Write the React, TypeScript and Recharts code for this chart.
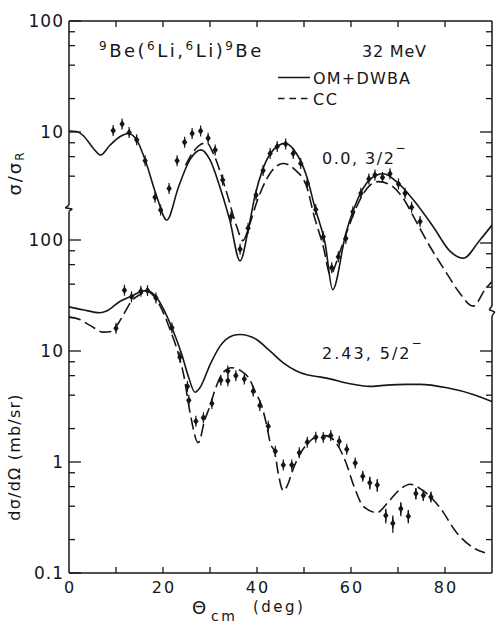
import React from 'react';
import { ComposedChart, Line, Scatter, XAxis, YAxis, ReferenceLine, ErrorBar } from 'recharts';

const W = 496;
const H = 624;
const INK = '#161616';
const FONT = '"DejaVu Sans", "Liberation Sans", sans-serif';

// plot rect: left 69, right 492, top 21, bottom 573
const LEFT_W = 40;
const RIGHT_W = 4;
const TOP_H = 10;
const BOTTOM_H = 30;
const MARGIN_UPPER = { top: 21 - TOP_H, right: 4 - RIGHT_W, bottom: 51, left: 69 - LEFT_W };
const MARGIN_LOWER = { top: 21, right: 4 - RIGHT_W, bottom: 51 - BOTTOM_H, left: 69 - LEFT_W };

// ---------- 0.0 MeV, 3/2- (upper panel, sigma/sigma_R) ----------
const gsOmAngles = [0, 1.5, 3, 5.2, 6.7, 8.7, 10.9, 12.6, 14.4, 16.2, 18.7, 20.8, 23.3, 25.7, 28.1, 30.0, 32.1, 34.2, 36.4, 38.2, 39.6, 41.3, 43.1, 46.0, 48.4, 50.6, 52.3, 54.5, 56.1, 58.9, 60.5, 63.3, 65.5, 66.9, 69.7, 73.3, 77.5, 81.1, 83.9, 87.4, 90];
const gsOmValues = [10.2, 10.1, 9.3, 7.1, 6.2, 7.6, 9.1, 9.7, 8.5, 5.6, 2.6, 1.61, 3.2, 5.6, 6.9, 5.6, 3.2, 1.61, 0.69, 1.36, 2.7, 4.7, 6.6, 7.9, 6.4, 3.95, 2.1, 0.99, 0.38, 1.22, 1.98, 3.45, 4.1, 4.2, 3.57, 2.44, 1.4, 0.84, 0.73, 1.06, 1.45];

const gsCcAngles = [24.8, 26.4, 29.3, 30.7, 33.6, 35.7, 37.0, 38.5, 39.9, 42.8, 45.6, 48.0, 50.6, 52.0, 54.1, 55.6, 57.5, 59.5, 62.0, 64.0, 65.8, 68.0, 71.1, 73.3, 76.8, 80.4, 83.0, 86.0, 88.5, 90];
const gsCcValues = [5.0, 6.6, 8.0, 6.4, 2.8, 1.4, 1.05, 1.5, 2.3, 4.25, 5.2, 4.6, 3.2, 1.85, 0.93, 0.52, 0.8, 1.4, 2.5, 3.3, 3.57, 3.4, 2.53, 1.73, 0.93, 0.53, 0.36, 0.27, 0.38, 0.45];

const gsDataAngles = [9.4, 11.3, 12.8, 14.4, 16.2, 18.3, 19.5, 21.3, 23.0, 24.6, 26.2, 28.0, 29.6, 31.1, 32.7, 34.5, 36.4, 38.1, 39.8, 41.3, 42.8, 44.3, 46.1, 47.7, 49.3, 50.7, 52.5, 54.1, 55.9, 57.3, 58.9, 60.4, 62.1, 63.8, 65.1, 66.7, 68.3, 70.1, 71.5, 72.9, 74.7];
const gsDataValues = [10.3, 11.8, 9.9, 8.5, 5.5, 2.58, 1.98, 3.1, 5.5, 8.1, 9.7, 10.2, 8.8, 6.9, 3.7, 1.73, 0.88, 1.36, 2.7, 4.5, 6.4, 7.4, 7.8, 6.4, 5.2, 3.45, 2.0, 1.14, 0.6, 0.75, 1.1, 1.91, 2.8, 3.78, 4.1, 3.9, 4.2, 3.4, 2.8, 2.1, 1.56];

// ---------- 2.43 MeV, 5/2- (lower panel, mb/sr) ----------
const exOmAngles = [0, 3, 6.6, 8.0, 10.9, 13.3, 15.5, 16.7, 18.7, 21.9, 24.0, 25.4, 26.8, 27.9, 30.0, 32.1, 34.9, 36.4, 39.9, 42.8, 45.6, 48.4, 50.6, 52.7, 54.8, 59.5, 64.0, 66.9, 71.9, 74.7, 80.4, 86.0, 90];
const exOmValues = [25.0, 23.5, 22.1, 22.9, 28.1, 31.2, 34.6, 35, 30.1, 16.2, 9.3, 5.9, 4.25, 4.7, 7.5, 11.0, 13.8, 14.1, 12.7, 9.96, 7.8, 6.6, 6.1, 5.9, 5.7, 5.1, 4.8, 4.9, 5.0, 5.0, 4.66, 4.06, 3.5];

const exCcAngles = [0, 2.3, 4.5, 7.3, 9.0, 10.0, 11.6, 13.3, 15.1, 16.5, 18.5, 21.5, 23.6, 24.4, 25.7, 27.5, 28.9, 30.0, 31.1, 32.8, 34.6, 36.4, 38.5, 39.6, 41.0, 42.1, 42.8, 43.8, 44.5, 45.6, 46.7, 47.4, 49.1, 50.9, 52.7, 54.5, 56.2, 58.8, 60.6, 62.6, 65.5, 68.0, 70.1, 72.6, 75.0, 78.9, 82.5, 86.0, 88.5];
const exCcValues = [20.3, 19.2, 17.0, 14.8, 15.0, 16.5, 21.3, 28.1, 32.3, 34.6, 29.5, 15.6, 8.4, 6.1, 2.87, 1.49, 2.4, 3.2, 4.5, 6.4, 7.06, 6.7, 5.5, 4.3, 3.2, 2.1, 1.49, 1.21, 0.8, 0.55, 0.65, 0.8, 1.17, 1.49, 1.69, 1.73, 1.6, 1.02, 0.61, 0.4, 0.35, 0.44, 0.55, 0.63, 0.565, 0.39, 0.23, 0.169, 0.152];

const exDataAngles = [10.0, 11.8, 13.3, 15.3, 16.7, 18.5, 21.9, 23.6, 25.2, 25.5, 27.0, 28.6, 30.4, 32.3, 33.8, 33.8, 35.5, 37.3, 39.2, 40.6, 42.4, 43.9, 45.6, 47.4, 49.0, 50.7, 52.5, 54.1, 55.7, 57.5, 59.1, 60.9, 62.5, 64.0, 65.6, 67.4, 68.9, 70.6, 72.2, 73.8, 75.4, 77.0];
const exDataValues = [16.0, 35.3, 30.8, 34.6, 35, 30.1, 16.2, 8.8, 4.8, 3.6, 2.33, 2.5, 3.37, 5.46, 6.6, 5.4, 6.0, 5.6, 4.35, 3.23, 2.1, 1.25, 0.94, 0.94, 1.21, 1.51, 1.67, 1.66, 1.73, 1.54, 1.3, 0.98, 0.745, 0.65, 0.62, 0.33, 0.28, 0.38, 0.325, 0.52, 0.5, 0.485];
const exDataErrors = [0, 0, 0, 0, 0, 0, 0, 0, 0, 0, 0, 0, 0, 0, 0, 0, 0, 0, 0, 0, 0, 0, 0, 0, 0, 0, 0, 0, 0, 0, 0, 0, 0.06, 0.085, 0.08, 0.05, 0.05, 0.055, 0.045, 0.06, 0.05, 0.045];

// ---------- axes ----------
const xTicksTop = [10, 20, 30, 40, 50, 60, 70, 80];
const xTicksBottom = [0, 10, 20, 30, 40, 50, 60, 70, 80, 90];
const xTickLabels = [0, 20, 40, 60, 80];
const topLeftTicks = [100, 80, 60, 40, 20, 10, 8, 6, 4];
const topRightTicks = [80, 60, 40, 20, 10, 8, 6, 4, 2, 1, 0.8, 0.6, 0.4];
const topLabels = [100, 10];
const botLeftTicks = [100, 80, 60, 40, 20, 10, 8, 6, 4, 2, 1, 0.8, 0.6, 0.4, 0.2, 0.1];
const botRightTicks = [10, 8, 6, 4, 2, 1, 0.8, 0.6, 0.4, 0.2];
const botLabels = [100, 10, 1, 0.1];

// frame pieces (axis breaks) in data units
const topLeftFrame = [[0, 100], [0, 2.2]];
const topRightFrame = [[90, 100], [90, 0.27]];
const botLeftFrame = [[0, 206], [-0.8, 195], [0.7, 190], [0, 182], [0, 0.1]];
const botRightFrame = [[90, 25.4], [89.4, 23.5], [90.6, 22.5], [90, 20.7], [90, 0.1]];

const DECADES = 552 / 111;
const TOP_DOMAIN: [number, number] = [Math.pow(10, 2 - DECADES), 100];
const BOT_DOMAIN: [number, number] = [0.1, Math.pow(10, -1 + DECADES)];

const zip = (xs: number[], ys: number[], es?: number[]) =>
  xs.map((x, i) => (es ? { x, y: ys[i], e: es[i] } : { x, y: ys[i] }));

const gsOm = zip(gsOmAngles, gsOmValues);
const gsCc = zip(gsCcAngles, gsCcValues);
const gsData = zip(gsDataAngles, gsDataValues);
const exOm = zip(exOmAngles, exOmValues);
const exCc = zip(exCcAngles, exCcValues);
const exData = zip(exDataAngles, exDataValues, exDataErrors);

const isDecade = (v: number) => Math.abs(Math.log10(v) - Math.round(Math.log10(v))) < 1e-6;

const mkYTick = (side: 'left' | 'right', labels: number[]) => (p: any) => {
  const { x, y, payload } = p;
  const v = payload.value;
  const len = isDecade(v) ? 12 : 6;
  const dir = side === 'left' ? 1 : -1;
  return (
    <g>
      <line x1={x} y1={y} x2={x + dir * len} y2={y} stroke={INK} strokeWidth={1.3} />
      {side === 'left' && labels.includes(v) ? (
        <text x={x - 5} y={y} dy="0.36em" textAnchor="end" fontSize={17} letterSpacing={1} fontFamily={FONT} fill={INK}>
          {String(v)}
        </text>
      ) : null}
    </g>
  );
};

const mkXTick = (side: 'top' | 'bottom') => (p: any) => {
  const { x, y, payload } = p;
  const v = payload.value;
  const dir = side === 'top' ? 1 : -1;
  const showLine = v > 0 && v < 90;
  return (
    <g>
      {showLine ? <line x1={x} y1={y} x2={x} y2={y + dir * 6} stroke={INK} strokeWidth={1.3} /> : null}
      {side === 'bottom' && xTickLabels.includes(v) ? (
        <text x={x + 1} y={y + 20} textAnchor="middle" fontSize={16} letterSpacing={2} fontFamily={FONT} fill={INK}>
          {String(v)}
        </text>
      ) : null}
    </g>
  );
};

const Marker = (props: any) => {
  const { cx, cy } = props;
  if (cx == null || cy == null || isNaN(cx) || isNaN(cy)) return null;
  return (
    <g>
      <line x1={cx} y1={cy - 5.5} x2={cx} y2={cy + 5.5} stroke={INK} strokeWidth={1.2} />
      <path d={`M${cx},${cy - 3.8}L${cx + 2.7},${cy}L${cx},${cy + 3.8}L${cx - 2.7},${cy}Z`} fill={INK} />
    </g>
  );
};

const frameLines = (pts: number[][], yAxisId: string, keyBase: string) =>
  pts.slice(1).map((pt, i) => (
    <ReferenceLine
      key={`${keyBase}${i}`}
      yAxisId={yAxisId}
      segment={[{ x: pts[i][0], y: pts[i][1] }, { x: pt[0], y: pt[1] }]}
      stroke={INK}
      strokeWidth={1.5}
      ifOverflow="visible"
    />
  ));

const abs: React.CSSProperties = { position: 'absolute', left: 0, top: 0 };

const yAxisCommon = {
  type: 'number' as const,
  scale: 'log' as const,
  allowDataOverflow: true,
  tickSize: 0,
  tickMargin: 0,
  tickLine: false,
  axisLine: false,
  interval: 0 as const,
};

export default function App() {
  return (
    <div style={{ position: 'absolute', left: 0, top: 0, width: W, height: H, background: '#fff' }}>
      {/* lower panel: 2.43 MeV state */}
      <div style={abs}>
        <ComposedChart width={W} height={H} margin={MARGIN_LOWER}>
          <XAxis
            dataKey="x"
            type="number"
            domain={[0, 90]}
            allowDataOverflow
            ticks={xTicksBottom}
            orientation="bottom"
            height={BOTTOM_H}
            tickSize={0}
            tickMargin={0}
            tickLine={false}
            axisLine={{ stroke: INK, strokeWidth: 1.5 }}
            tick={mkXTick('bottom')}
            interval={0}
          />
          <YAxis yAxisId="l" dataKey="y" {...yAxisCommon} domain={BOT_DOMAIN} ticks={botLeftTicks} width={LEFT_W} tick={mkYTick('left', botLabels)} />
          <YAxis yAxisId="r" orientation="right" {...yAxisCommon} domain={BOT_DOMAIN} ticks={botRightTicks} width={RIGHT_W} tick={mkYTick('right', [])} />
          {frameLines(botLeftFrame, 'l', 'bl')}
          {frameLines(botRightFrame, 'l', 'br')}
          <Line yAxisId="l" data={exOm} dataKey="y" type="monotone" stroke={INK} strokeWidth={1.6} dot={false} isAnimationActive={false} />
          <Line yAxisId="l" data={exCc} dataKey="y" type="monotone" stroke={INK} strokeWidth={1.6} strokeDasharray="12 5" dot={false} isAnimationActive={false} />
          <Scatter yAxisId="l" data={exData} dataKey="y" shape={Marker} isAnimationActive={false}>
            <ErrorBar dataKey="e" direction="y" width={0} stroke={INK} strokeWidth={1.3} />
          </Scatter>
        </ComposedChart>
      </div>

      {/* upper panel: ground state */}
      <div style={abs}>
        <ComposedChart width={W} height={H} margin={MARGIN_UPPER}>
          <XAxis
            dataKey="x"
            type="number"
            domain={[0, 90]}
            allowDataOverflow
            ticks={xTicksTop}
            orientation="top"
            height={TOP_H}
            tickSize={0}
            tickMargin={0}
            tickLine={false}
            axisLine={{ stroke: INK, strokeWidth: 1.5 }}
            tick={mkXTick('top')}
            interval={0}
          />
          <YAxis yAxisId="l" dataKey="y" {...yAxisCommon} domain={TOP_DOMAIN} ticks={topLeftTicks} width={LEFT_W} tick={mkYTick('left', topLabels)} />
          <YAxis yAxisId="r" orientation="right" {...yAxisCommon} domain={TOP_DOMAIN} ticks={topRightTicks} width={RIGHT_W} tick={mkYTick('right', [])} />
          {frameLines(topLeftFrame, 'l', 'tl')}
          {frameLines(topRightFrame, 'l', 'tr')}
          <Line yAxisId="l" data={gsOm} dataKey="y" type="monotone" stroke={INK} strokeWidth={1.6} dot={false} isAnimationActive={false} />
          <Line yAxisId="l" data={gsCc} dataKey="y" type="monotone" stroke={INK} strokeWidth={1.6} strokeDasharray="12 5" dot={false} isAnimationActive={false} />
          <Scatter yAxisId="l" data={gsData} dataKey="y" shape={Marker} isAnimationActive={false} />
        </ComposedChart>
      </div>

      {/* annotations */}
      <svg width={W} height={H} style={{ ...abs, pointerEvents: 'none' }} fontFamily={FONT} fill={INK}>
        <text x={99} y={57} fontSize={18} letterSpacing={2.5}>
          <tspan fontSize={12} dy={-7}>9</tspan>
          <tspan dy={7}>Be(</tspan>
          <tspan fontSize={12} dy={-7}>6</tspan>
          <tspan dy={7}>Li,</tspan>
          <tspan fontSize={12} dy={-7}>6</tspan>
          <tspan dy={7}>Li)</tspan>
          <tspan fontSize={12} dy={-7}>9</tspan>
          <tspan dy={7}>Be</tspan>
        </text>
        <text x={362} y={57} fontSize={16} letterSpacing={0.8}>32 MeV</text>

        <line x1={278} y1={77.5} x2={310} y2={77.5} stroke={INK} strokeWidth={1.5} />
        <text x={313} y={83.5} fontSize={16} letterSpacing={1.2}>OM+DWBA</text>
        <line x1={278} y1={98.5} x2={310} y2={98.5} stroke={INK} strokeWidth={1.5} strokeDasharray="6.5 5" />
        <text x={313} y={105} fontSize={16} letterSpacing={1.5}>CC</text>

        <text x={322} y={164} fontSize={16} letterSpacing={1.5}>
          0.0, 3/2<tspan fontSize={12} dy={-12}>−</tspan>
        </text>
        <text x={322} y={359} fontSize={16} letterSpacing={2}>
          2.43, 5/2<tspan fontSize={12} dy={-12}>−</tspan>
        </text>

        <text x={21} y={173} transform="rotate(-90 21 173)" textAnchor="middle" fontSize={18} letterSpacing={2}>
          σ/σ<tspan fontSize={12} dy={3}>R</tspan>
        </text>
        <text x={20} y={457} transform="rotate(-90 20 457)" textAnchor="middle" fontSize={16} letterSpacing={1.2}>
          dσ/dΩ (mb/sr)
        </text>

        <text x={192} y={614} fontSize={18}>Θ</text>
        <text x={211} y={621} fontSize={14} letterSpacing={2.5}>cm</text>
        <text x={253} y={612} fontSize={15} letterSpacing={2.5}>(deg)</text>
      </svg>
    </div>
  );
}
